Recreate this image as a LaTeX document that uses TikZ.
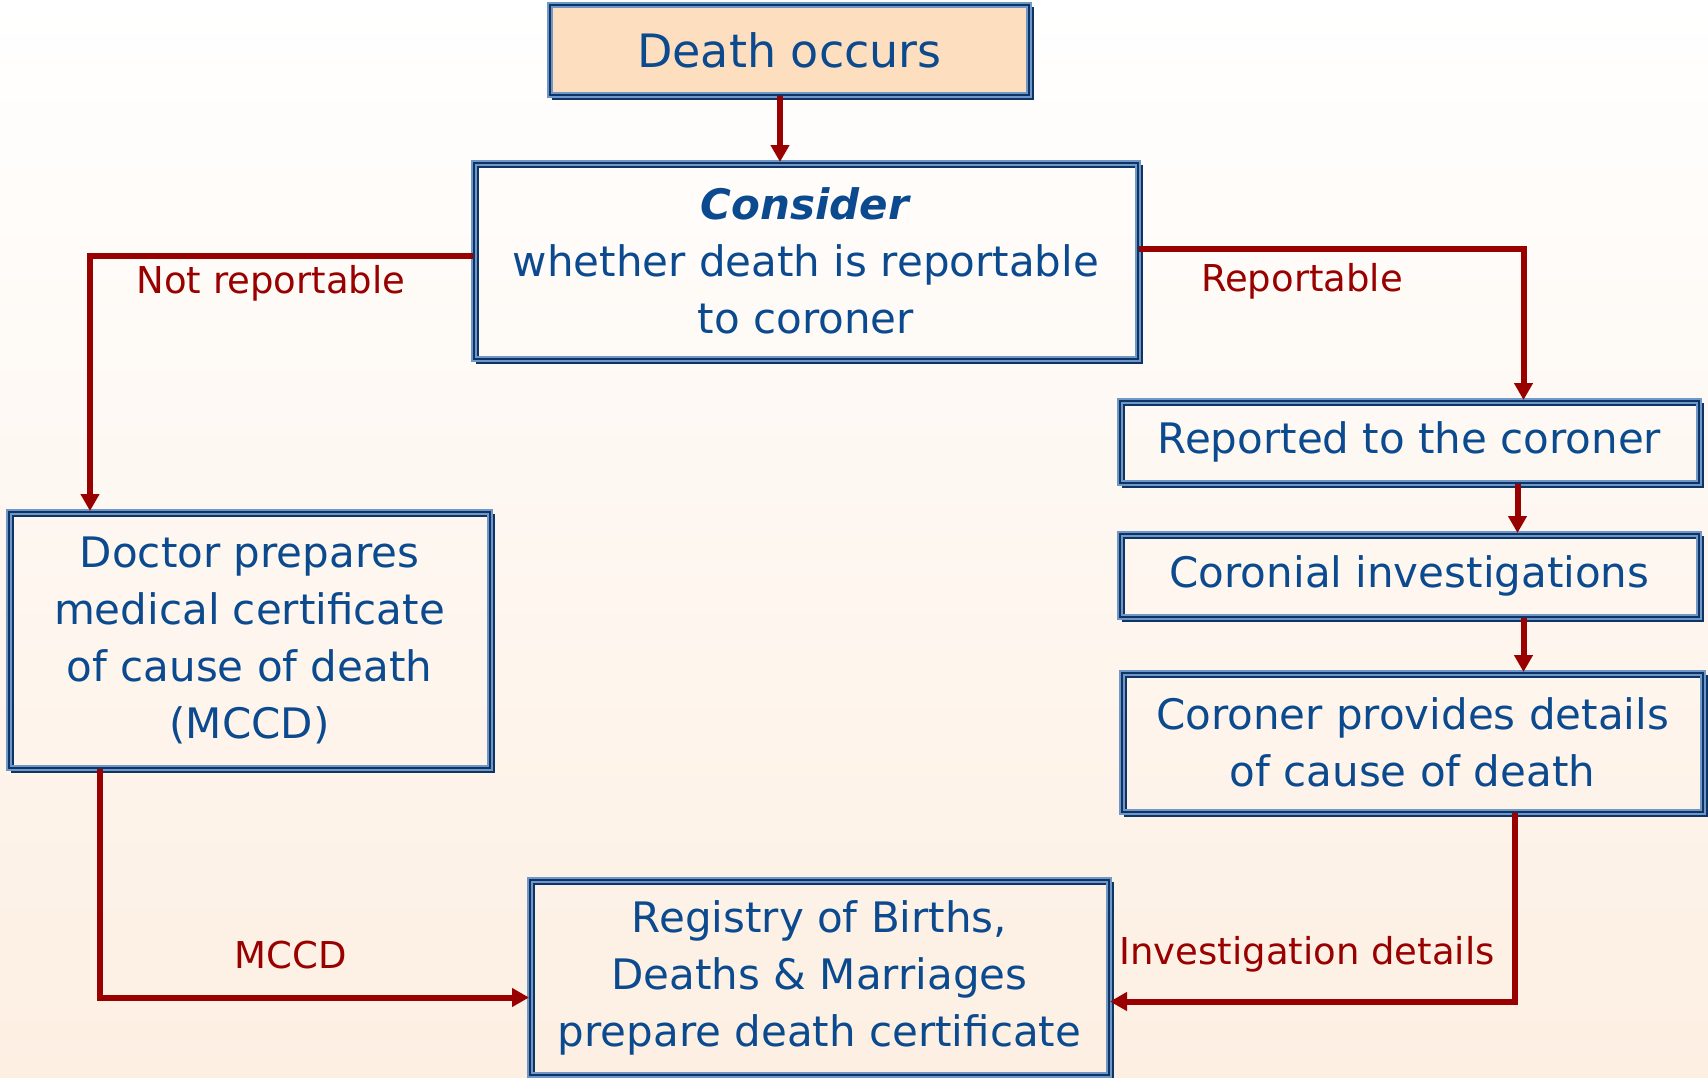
\documentclass[tikz,border=0pt]{standalone}
\usepackage{fontspec}
\setmainfont{DejaVu Sans}
\usetikzlibrary{arrows.meta}

\definecolor{boxtext}{HTML}{0B4A8E}
\definecolor{boxlight}{HTML}{6F97C8}
\definecolor{boxdark}{HTML}{0E3466}
\definecolor{flowred}{HTML}{990000}
\definecolor{deathfill}{HTML}{FDDFC0}
\definecolor{bgpeach}{HTML}{FDEFE2}

\begin{document}
\begin{tikzpicture}[x=0.5pt, y=-0.5pt, font=\fontsize{21}{28.5}\selectfont,
    box/.style={draw=boxlight, double=boxdark, line width=1pt, double distance=0.7pt,
        text=boxtext, align=center, inner sep=0pt,
        preaction={draw=boxdark, line width=1.3pt, transform canvas={xshift=1.6pt, yshift=-1.6pt}}},
    flow/.style={draw=flowred, line width=3pt, -{Triangle[length=8.5pt, width=9pt]}},
    lbl/.style={text=flowred, font=\fontsize{18.5}{22}\selectfont}]

        % --- Sfondo ---
        \shade[top color=white, bottom color=bgpeach] (0,0) rectangle (1708,1077);
        \useasboundingbox (0,0) rectangle (1708,1077);

        % --- Blocchi ---
        \node[box, fill=deathfill, minimum width=239.5pt, minimum height=45pt,
            font=\fontsize{23}{28}\selectfont] (death) at (789.5,50) {Death occurs};
        \node[box, minimum width=332pt, minimum height=98pt] (consider) at (806,261)
            {\textbf{\textit{Consider}}\\whether death is reportable\\to coroner};
        \node[box, minimum width=289.5pt, minimum height=41pt] (reported) at (1409.5,442)
            {Reported to the coroner};
        \node[box, minimum width=289.5pt, minimum height=41.5pt] (coronial) at (1409.5,575.5)
            {Coronial investigations};
        \node[box, minimum width=290.5pt, minimum height=69.5pt] (provides) at (1412.5,742.5)
            {Coroner provides details\\of cause of death};
        \node[box, minimum width=240.5pt, minimum height=128pt] (doctor) at (249.5,640)
            {Doctor prepares\\medical certificate\\of cause of death\\(MCCD)};
        \node[box, minimum width=289.5pt, minimum height=97.5pt] (registry) at (819.5,977.5)
            {Registry of Births,\\Deaths \& Marriages\\prepare death certificate};

        % --- Frecce ---
        \draw[flow] ([xshift=-4.75pt]death.south) -- ([xshift=-4.75pt]death.south |- consider.north);
        \draw[flow] ([yshift=2.5pt]consider.west) -| ([xshift=41pt]doctor.north west);
        \draw[flow] ([yshift=6pt]consider.east) -| ([xshift=57pt]reported.north);
        \draw[flow] ([xshift=54pt]reported.south) -- ([xshift=54pt]reported.south |- coronial.north);
        \draw[flow] ([xshift=57pt]coronial.south) -- ([xshift=57pt]coronial.south |- provides.north);
        \draw[flow] ([xshift=51pt]provides.south) |- ([yshift=-12pt]registry.east);
        \draw[flow] ([xshift=-75pt]doctor.south) |- ([yshift=-10pt]registry.west);

        % --- Etichette ---
        \node[lbl] (notrep) at (271,283) {Not reportable};
        \node[lbl] (rep) at (1302,281) {Reportable};
        \node[lbl] (mccd) at (291,955) {MCCD};
        \node[lbl] (invdet) at (1307,954) {Investigation details};

    \end{tikzpicture}
\end{document}
